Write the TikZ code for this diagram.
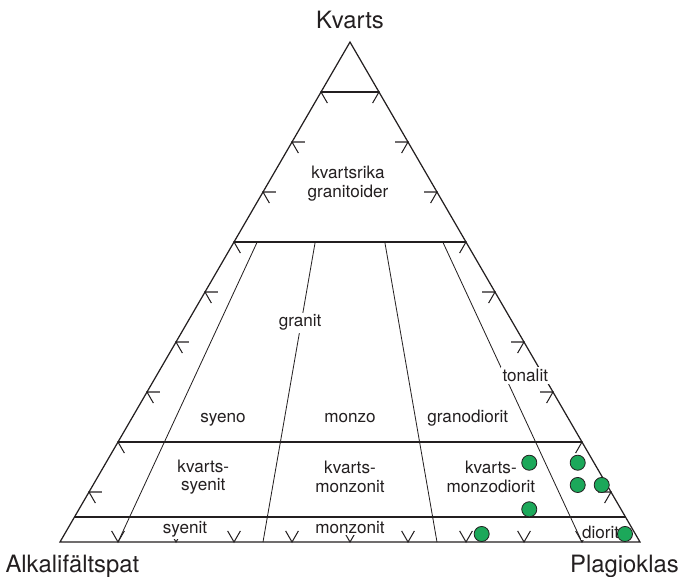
\documentclass[tikz,border=0pt]{standalone}
\usepackage{fontspec}
\setmainfont{TeX Gyre Heros}
\usetikzlibrary{calc}
\definecolor{ink}{RGB}{35,31,32}
\definecolor{dotgreen}{RGB}{28,168,90}
\tikzset{
    edge/.style={ink, line width=0.6pt},
    divider/.style={ink, line width=0.4pt},
    tickmark/.style={ink, line width=0.5pt},
    field/.style={fill=white, inner sep=1pt, text=ink, align=center, font=\fontsize{8.4}{9.2}\selectfont},
    corner/.style={text=ink, font=\fontsize{11.7}{14}\selectfont},
    sample/.style={circle, fill=dotgreen, draw=ink, line width=0.4pt, minimum size=0.26cm, inner sep=0pt}
}
\begin{document}
\begin{tikzpicture}
    \useasboundingbox (-1.0345,-0.6034) rectangle (10.707,9.345);
    % 三角形顶点
    \coordinate (A) at (0,0);
    \coordinate (P) at (10,0);
    \coordinate (Q) at (5,8.62);
    
    % 绘制三角形
    \draw[edge] (A) -- (P) -- (Q) -- cycle;
    
    % 水平分界线 (Q = 90, 60, 20, 5)
    \foreach \q in {0.9,0.6,0.2,0.05}
        \draw[edge] ($(A)!\q!(Q)$) -- ($(P)!\q!(Q)$);
    
    % 斜向分界线
    \path ($(A)!0.6!(Q)$) coordinate (lq60) ($(P)!0.6!(Q)$) coordinate (rq60);
    \foreach \r in {0.1,0.35,0.65,0.9}
        \draw[divider] ($(lq60)!\r!(rq60)$) -- ($(A)!\r!(P)$);
    
    % 边上的刻度
    \foreach \t in {1,...,9} {
        \draw[tickmark] ($(A)!\t*0.1!(Q)$) +(0:0.22) -- +(0,0) -- +(-60:0.22);
        \draw[tickmark] ($(P)!\t*0.1!(Q)$) +(180:0.22) -- +(0,0) -- +(240:0.22);
        \draw[tickmark] ($(A)!\t*0.1!(P)$) +(60:0.22) -- +(0,0) -- +(120:0.22);
    }
    
    % 顶点标注
    \node[corner, anchor=base] (kvarts) at (5,8.857) {Kvarts};
    \node[corner, anchor=base] (alkali) at (0.214,-0.534) {Alkalifältspat};
    \node[corner, anchor=base] (plagioklas) at (9.733,-0.534) {Plagioklas};
    
    % 岩石名称
    \node[field] (qrich) at (4.966,6.18) {kvartsrika\\granitoider};
    \node[field, anchor=base] (granit) at (4.14,3.707) {granit};
    \node[field, anchor=base] (syeno) at (2.81,2.052) {syeno};
    \node[field, anchor=base] (monzo) at (5,2.052) {monzo};
    \node[field, anchor=base] (granodiorit) at (7.03,2.052) {granodiorit};
    \node[field, anchor=base] (tonalit) at (8.023,2.772) {tonalit};
    \node[field] (qsyenit) at (2.47,1.12) {kvarts-\\syenit};
    \node[field] (qmonzonit) at (5,1.12) {kvarts-\\monzonit};
    \node[field] (qmonzodiorit) at (7.43,1.12) {kvarts-\\monzodiorit};
    \node[field, anchor=base] (syenit) at (2.155,0.155) {syenit};
    \node[field, anchor=base] (monzonit) at (5,0.155) {monzonit};
    \node[field, anchor=base, inner sep=0.5pt] (diorit) at (9.32,0.052) {diorit};
    
    % 样品点
    \foreach \x/\y [count=\i] in {8.091/1.367, 8.926/1.367, 8.926/0.983, 9.34/0.983,
                                  8.091/0.564, 7.27/0.138, 9.741/0.138}
        \node[sample] (s\i) at (\x,\y) {};
\end{tikzpicture}
\end{document}
